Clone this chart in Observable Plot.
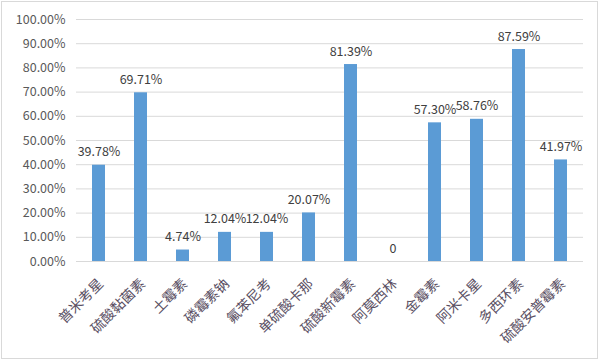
<!DOCTYPE html>
<html><head><meta charset="utf-8">
<script src="https://cdn.jsdelivr.net/npm/d3@7"></script>
<script src="https://cdn.jsdelivr.net/npm/@observablehq/plot@0.6"></script>
<style>
html,body{margin:0;padding:0;background:#fff;}
#wrap{position:relative;width:602px;height:362px;}
#frame{position:absolute;left:1px;top:1px;width:597px;height:358px;border:1px solid #d9d9d9;box-sizing:border-box;pointer-events:none;}
</style></head>
<body><div id="wrap"><div id="frame"></div></div>
<script>
const categories = ["普米考星","硫酸黏菌素","土霉素","磷霉素钠","氟苯尼考","单硫酸卡那","硫酸新霉素","阿莫西林","金霉素","阿米卡星","多西环素","硫酸安普霉素"];
const values = [39.78, 69.71, 4.74, 12.04, 12.04, 20.07, 81.39, 0, 57.30, 58.76, 87.59, 41.97];
const valueLabels = ["39.78%","69.71%","4.74%","12.04%","12.04%","20.07%","81.39%","0","57.30%","58.76%","87.59%","41.97%"];
const yTicks = [0,10,20,30,40,50,60,70,80,90,100];

const data = categories.map((c,i)=>({cat:c, v:values[i], label:valueLabels[i]}));
const font = "'Noto Sans CJK SC', 'Noto Sans', sans-serif";

const chart = Plot.plot({
  width: 602, height: 362,
  marginLeft: 76, marginRight: 19, marginTop: 19, marginBottom: 101,
  style: {fontFamily: font, fontSize: "12px", color: "#595959", background: "transparent"},
  x: {domain: categories, paddingInner: 0.69, paddingOuter: 0.345, label: null, axis: null},
  y: {domain: [0,100], label: null},
  marks: [
    Plot.gridY(yTicks, {stroke: "#d9d9d9", strokeOpacity: 1}),
    Plot.axisY(yTicks, {tickFormat: d => d.toFixed(2) + "%", tickSize: 0, tickPadding: 11, fontSize: 12.5, letterSpacing: "0.6px", fill: "#595959", label: null}),
    Plot.barY(data, {x: "cat", y: "v", fill: "#5b9bd5"}),
    Plot.ruleY([0], {stroke: "#d9d9d9"}),
    Plot.text(data, {x: "cat", y: () => 0, text: "cat", rotate: -45, textAnchor: "end", lineAnchor: "middle", dy: 20, dx: 2, fontSize: 14, letterSpacing: "2px", fill: "#5a4f63"}),
    Plot.text(data, {x: "cat", y: "v", text: "label", lineAnchor: "bottom", dy: -9, fontSize: 12.5, fill: "#404040"})
  ]
});
document.getElementById("wrap").prepend(chart);
</script>
</body></html>
